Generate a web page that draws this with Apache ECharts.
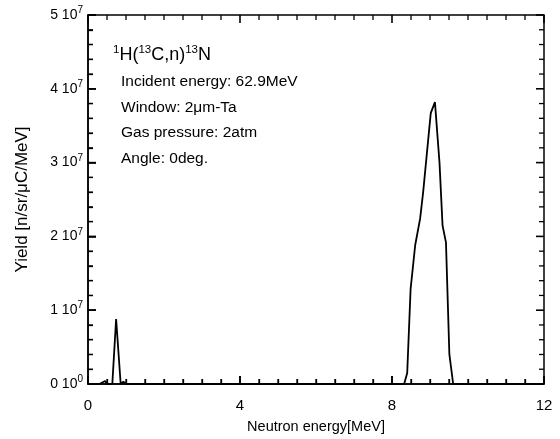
<!DOCTYPE html>
<html><head><meta charset="utf-8">
<script src="https://cdn.jsdelivr.net/npm/echarts@6/dist/echarts.min.js"></script>
<style>html,body{margin:0;padding:0;background:#fff}#c{width:560px;height:439px}</style>
</head><body><div id="c"></div>
<script>
// Neutron energy [MeV]
var energy = [0, 0.3, 0.45, 0.5, 0.64, 0.74, 0.86, 0.93, 1.0, 2.0, 4.0, 6.0, 8.0, 8.32, 8.40, 8.49, 8.61, 8.74, 8.82, 9.02, 9.13, 9.25, 9.33, 9.42, 9.51, 9.61, 10.0, 12.0];
// Yield [n/sr/uC/MeV]
var yieldVals = [0, 0, 0.04e7, 0, 0, 0.88e7, 0, 0.03e7, 0, 0, 0, 0, 0, 0, 0.15e7, 1.29e7, 1.88e7, 2.24e7, 2.6e7, 3.67e7, 3.82e7, 3.0e7, 2.15e7, 1.92e7, 0.4e7, 0, 0, 0];
var xTicks = [0, 4, 8, 12];
var yTicks = [0, 1e7, 2e7, 3e7, 4e7, 5e7];
var yMantissa = [0, 1, 2, 3, 4, 5];
var yExponent = ['0', '7', '7', '7', '7', '7'];
var xMinorPerMajor = 8;
var yMinorPerMajor = 5;
var infoLines = ['Incident energy: 62.9MeV', 'Window: 2\u03bcm-Ta', 'Gas pressure: 2atm', 'Angle: 0deg.'];

var FONT = 'Liberation Sans, Arial, sans-serif';
var chart = echarts.init(document.getElementById('c'));
var pts = energy.map(function (e, i) { return [e, yieldVals[i]]; });

function tickList(major, per) {
  var out = [];
  for (var i = 0; i < major.length; i++) {
    out.push({ v: major[i], major: true });
    if (i < major.length - 1) {
      var step = (major[i + 1] - major[i]) / per;
      for (var k = 1; k < per; k++) out.push({ v: major[i] + k * step, major: false });
    }
  }
  return out;
}
var xTickList = tickList(xTicks, xMinorPerMajor);
var yTickList = tickList(yTicks, yMinorPerMajor);

function renderTicks(params, api) {
  var cs = params.coordSys;
  var L = cs.x, R = cs.x + cs.width, T = cs.y, B = cs.y + cs.height;
  var ch = [];
  function seg(x1, y1, x2, y2, w) {
    ch.push({ type: 'line', shape: { x1: x1, y1: y1, x2: x2, y2: y2 }, style: { stroke: '#000', lineWidth: w, fill: null } });
  }
  xTickList.forEach(function (t) {
    var px = api.coord([t.v, 0])[0];
    var len = t.major ? 8 : 5, w = t.major ? 1.6 : 1.3;
    seg(px, B, px, B - len, w);
    seg(px, T, px, T + len, w);
  });
  yTickList.forEach(function (t) {
    var py = api.coord([0, t.v])[1];
    var len = t.major ? 8 : 5, w = t.major ? 1.6 : 1.3;
    seg(L, py, L + len, py, w);
    seg(R, py, R - len, py, w);
  });
  return { type: 'group', children: ch };
}

chart.setOption({
  animation: false,
  grid: { left: 88, right: 16, top: 15, bottom: 53, show: true, borderColor: '#000', borderWidth: 1.5, backgroundColor: 'transparent' },
  xAxis: {
    type: 'value', min: 0, max: 12, interval: 4,
    axisLine: { show: true, onZero: false, lineStyle: { color: '#000', width: 1.5 } },
    axisTick: { show: true, inside: true, length: 8, lineStyle: { color: '#000', width: 1.6 } },
    minorTick: { show: true, splitNumber: xMinorPerMajor, length: 5, lineStyle: { color: '#000', width: 1.3 } },
    splitLine: { show: false },
    name: 'Neutron energy[MeV]', nameLocation: 'middle', nameGap: 35,
    nameTextStyle: { fontFamily: FONT, fontSize: 14.5, color: '#000' },
    axisLabel: { margin: 14, fontFamily: FONT, fontSize: 15, color: '#000',
      formatter: function (v) { return xTicks.indexOf(v) >= 0 ? String(v) : ''; } }
  },
  yAxis: {
    type: 'value', min: 0, max: 5e7, interval: 1e7,
    axisLine: { show: true, onZero: false, lineStyle: { color: '#000', width: 1.5 } },
    axisTick: { show: true, inside: true, length: 8, lineStyle: { color: '#000', width: 1.6 } },
    minorTick: { show: true, splitNumber: yMinorPerMajor, length: 5, lineStyle: { color: '#000', width: 1.3 } },
    splitLine: { show: false },
    name: 'Yield [n/sr/\u03bcC/MeV]', nameLocation: 'middle', nameGap: 57, nameRotate: 90,
    nameTextStyle: { fontFamily: FONT, fontSize: 17, color: '#000' },
    axisLabel: { margin: 5, fontFamily: FONT, fontSize: 14, color: '#000',
      formatter: function (v) { var i = Math.round(v / 1e7); return yMantissa[i] + ' 10{s|' + yExponent[i] + '}'; },
      rich: { s: { fontFamily: FONT, fontSize: 10, padding: [0, 0, 9, 0], color: '#000' } } }
  },
  series: [
    { type: 'line', data: pts, showSymbol: false, symbol: 'none',
      lineStyle: { color: '#000', width: 1.8 }, clip: true },
    { type: 'custom', coordinateSystem: 'cartesian2d', data: [[0, 0]], renderItem: renderTicks, silent: true, clip: false, z: 10 }
  ],
  graphic: [
    { type: 'text', left: 113, top: 44, style: { text: '{s|1}H({s|13}C,n){s|13}N', fontFamily: FONT, fontSize: 18, fill: '#000',
      rich: { s: { fontFamily: FONT, fontSize: 11.5, padding: [0, 0, 10, 0], fill: '#000' } } } },
    { type: 'text', left: 121, top: 69, style: { text: infoLines.join('\n'), fontFamily: FONT, fontSize: 15.5, lineHeight: 25.5, fill: '#000' } }
  ]
});
</script></body></html>
